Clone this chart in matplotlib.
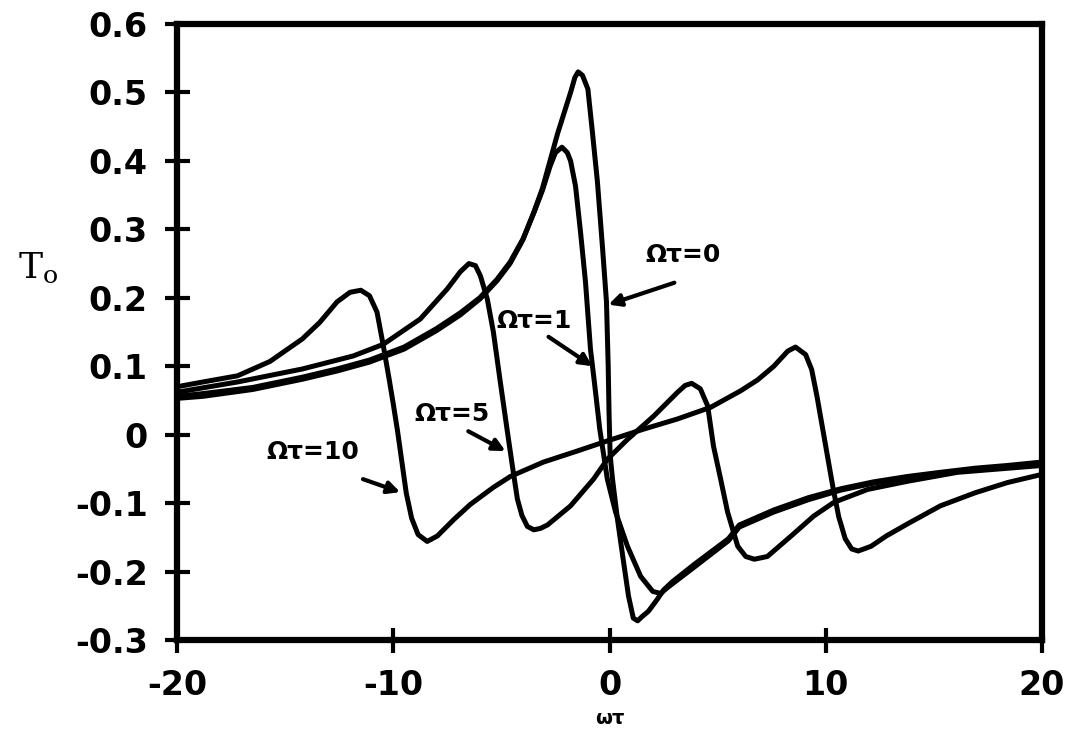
import matplotlib
matplotlib.use("Agg")
import matplotlib.pyplot as plt


##############################################################################
# Data

# Ωτ = 0
X0 = [-20, -18.8, -16.5, -14.2, -12.6, -11.1, -9.5, -8.0, -6.9, -6.0, -5.2,
      -4.6, -4.0, -3.5, -3.1, -2.75, -2.4, -2.1, -1.8, -1.6, -1.45, -1.25,
      -1.0, -0.8, -0.56, -0.32, -0.14, -0.06, -0.02, 0.03, 0.14, 0.37, 0.65,
      0.88, 1.1, 1.3, 1.5, 1.8, 2.2, 2.5, 2.9, 3.9, 5.5, 6.0, 7.6, 9.2, 10.7,
      12.2, 13.8, 15.3, 16.9, 18.4, 20]
Y0 = [0.053, 0.056, 0.066, 0.081, 0.093, 0.106, 0.125, 0.152, 0.175, 0.198,
      0.225, 0.250, 0.285, 0.325, 0.360, 0.400, 0.440, 0.470, 0.500, 0.522,
      0.530, 0.525, 0.505, 0.445, 0.370, 0.272, 0.194, 0.100, 0.030, -0.030,
      -0.065, -0.124, -0.186, -0.236, -0.268, -0.272, -0.266, -0.258,
      -0.241, -0.227, -0.215, -0.190, -0.152, -0.132, -0.110, -0.092,
      -0.079, -0.069, -0.061, -0.055, -0.049, -0.045, -0.040]

# Ωτ = 1
X1 = [-20, -18.8, -16.5, -14.2, -12.6, -11.1, -9.5, -8.0, -6.9, -6.0, -5.2,
      -4.6, -4.0, -3.5, -3.1, -2.75, -2.5, -2.2, -1.95, -1.8, -1.57, -1.34,
      -1.11, -0.88, -0.7, -0.45, -0.1, 0.28, 0.83, 1.44, 2.0, 2.36, 2.7, 3.9,
      5.5, 6.0, 7.6, 9.2, 10.7, 12.2, 13.8, 15.3, 16.9, 18.4, 20]
Y1 = [0.056, 0.060, 0.069, 0.084, 0.096, 0.109, 0.128, 0.155, 0.178, 0.200,
      0.227, 0.252, 0.286, 0.324, 0.357, 0.392, 0.412, 0.420, 0.412, 0.400,
      0.363, 0.296, 0.223, 0.125, 0.077, 0.008, -0.065, -0.113, -0.163,
      -0.207, -0.229, -0.232, -0.223, -0.194, -0.155, -0.135, -0.113,
      -0.095, -0.081, -0.071, -0.063, -0.057, -0.051, -0.047, -0.042]

# Ωτ = 5
X5 = [-20, -17.2, -14.2, -11.85, -10.46, -8.75, -7.5, -6.9, -6.5, -6.2,
      -5.97, -5.65, -5.37, -5.05, -4.72, -4.49, -4.26, -4.05, -3.8, -3.5,
      -3.2, -2.87, -1.8, -0.74, -0.1, 0.83, 2.04, 3.15, 3.5, 3.8, 4.2, 4.54,
      4.81, 5.14, 5.46, 5.93, 6.3, 6.7, 7.3, 8.4, 9.44, 10.37, 11.94, 13.8,
      16.1, 20]
Y5 = [0.062, 0.077, 0.096, 0.115, 0.132, 0.169, 0.213, 0.238, 0.250, 0.247,
      0.232, 0.198, 0.150, 0.077, 0.004, -0.046, -0.094, -0.118, -0.134,
      -0.139, -0.137, -0.132, -0.104, -0.065, -0.036, -0.007, 0.027, 0.062,
      0.072, 0.075, 0.067, 0.042, -0.017, -0.065, -0.113, -0.163, -0.178,
      -0.182, -0.178, -0.148, -0.119, -0.099, -0.080, -0.068, -0.055,
      -0.045]

# Ωτ = 10
X10 = [-20, -18.8, -17.2, -15.7, -14.2, -13.4, -12.6, -12.0, -11.5, -11.1,
       -10.75, -10.46, -10.2, -10.0, -9.8, -9.6, -9.4, -9.15, -8.85, -8.43,
       -7.96, -7.2, -6.44, -5.37, -4.58, -3.05, -1.5, -0.28, 1.57, 3.15,
       4.68, 6.06, 6.85, 7.6, 8.24, 8.6, 9.07, 9.35, 9.6, 9.85, 10.1, 10.35,
       10.6, 10.9, 11.2, 11.5, 12.1, 12.8, 13.8, 15.3, 16.9, 18.4, 20]
Y10 = [0.070, 0.077, 0.086, 0.107, 0.140, 0.164, 0.194, 0.208, 0.211, 0.203,
       0.179, 0.130, 0.083, 0.045, 0.005, -0.040, -0.085, -0.122, -0.146,
       -0.156, -0.148, -0.124, -0.102, -0.077, -0.061, -0.040, -0.024,
       -0.011, 0.008, 0.023, 0.040, 0.064, 0.080, 0.100, 0.122, 0.128,
       0.117, 0.095, 0.055, 0.010, -0.035, -0.080, -0.120, -0.152, -0.167,
       -0.170, -0.163, -0.148, -0.130, -0.104, -0.085, -0.070, -0.058]

XTICKS = [-20, -10, 0, 10, 20]
XTICK_LABELS = ["-20", "-10", "0", "10", "20"]
YTICKS = [-0.3, -0.2, -0.1, 0, 0.1, 0.2, 0.3, 0.4, 0.5, 0.6]
YTICK_LABELS = ["-0.3", "-0.2", "-0.1", "0", "0.1", "0.2", "0.3", "0.4",
                "0.5", "0.6"]

# label text, text position, arrow tail, arrow tip
LABELS = [
    ("\u03a9\u03c4=0", (3.4, 0.263), (3.0, 0.222), (-0.05, 0.19)),
    ("\u03a9\u03c4=1", (-3.5, 0.166), (-2.82, 0.143), (-0.79, 0.100)),
    ("\u03a9\u03c4=5", (-7.27, 0.030), (-6.53, 0.005), (-4.81, -0.024)),
    ("\u03a9\u03c4=10", (-13.7, -0.026), (-11.4, -0.065), (-9.68, -0.084)),
]


##############################################################################
# Plotting

plt.rcParams["mathtext.fontset"] = "dejavuserif"

fig = plt.figure(figsize=(10.73, 7.34), dpi=100)
ax = fig.add_axes([177 / 1073, 1 - 640 / 734, 865 / 1073, 616 / 734])

for xs, ys in [(X0, Y0), (X1, Y1), (X5, Y5), (X10, Y10)]:
    ax.plot(xs, ys, color="black", lw=3.6, solid_joinstyle="round",
            solid_capstyle="round")

for text, tpos, tail, tip in LABELS:
    ax.text(tpos[0], tpos[1], text, ha="center", va="center",
            fontsize=18, fontweight="bold")
    ax.annotate("", xy=tip, xytext=tail,
                arrowprops=dict(arrowstyle="-|>", color="black", lw=3,
                                mutation_scale=18, shrinkA=0, shrinkB=0))

ax.set_xlim(-20, 20)
ax.set_ylim(-0.3, 0.6)
ax.set_xticks(XTICKS)
ax.set_xticklabels(XTICK_LABELS)
ax.set_yticks(YTICKS)
ax.set_yticklabels(YTICK_LABELS)
for lab in ax.get_xticklabels() + ax.get_yticklabels():
    lab.set_fontweight("bold")

ax.tick_params(direction="inout", length=18, width=3, labelsize=24, pad=12)
for sp in ax.spines.values():
    sp.set_linewidth(4.5)

fig.text(38 / 1073, 1 - 268 / 734, r"$\mathrm{T_o}$", fontsize=26,
         ha="center", va="center")
fig.text(610 / 1073, 1 - 718 / 734, "\u03c9\u03c4", fontsize=14,
         fontweight="bold", ha="center", va="center")

fig.savefig("out.png", dpi=100)
